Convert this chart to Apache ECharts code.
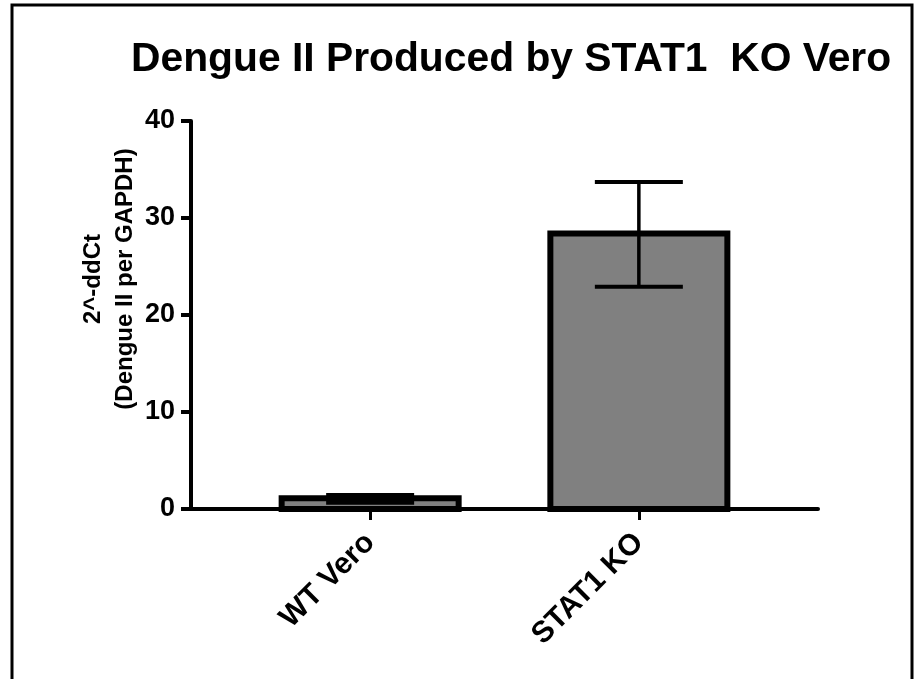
<!DOCTYPE html>
<html>
<head>
<meta charset="utf-8">
<script src="https://cdn.jsdelivr.net/npm/echarts@6/dist/echarts.min.js"></script>
<style>
  html, body { margin: 0; padding: 0; background: #fff; }
  #chart { width: 918px; height: 679px; }
</style>
</head>
<body>
<div id="chart"></div>
<script>
const categories = ['WT Vero', 'STAT1 KO'];
const means = [1.1, 28.4];
const errLow = [0.65, 22.9];
const errHigh = [1.45, 33.7];
const yMin = 0, yMax = 40, yStep = 10;

// Prism style spacing: 2 empty slots, bar, 2 slots, bar, 2 slots
const slotOf = [2, 5];
const nSlots = 8;
const axisData = [];
const labelAt = [];
for (let i = 0; i < nSlots; i++) {
  axisData.push('s' + i);
  labelAt.push('');
}
categories.forEach((c, i) => { labelAt[slotOf[i]] = c; });
const barData = categories.map((c, i) => [slotOf[i], means[i]]);
const errData = categories.map((c, i) => [slotOf[i], errLow[i], errHigh[i]]);

const font = 'Liberation Sans, Arial, sans-serif';
const isCat = (i) => slotOf.indexOf(i) >= 0;

const myChart = echarts.init(document.getElementById('chart'));
const option = {
  animation: false,
  backgroundColor: '#fff',
  title: {
    text: 'Dengue II Produced by STAT1  KO Vero',
    left: 126,
    top: 34,
    textStyle: { fontFamily: font, fontWeight: 'bold', fontSize: 40.8, color: '#000' }
  },
  graphic: [{
    type: 'rect',
    silent: true,
    shape: { x: 12, y: 5, width: 900, height: 700 },
    style: { fill: 'none', stroke: '#000', lineWidth: 3 }
  }],
  grid: { left: 191, right: 100, top: 121, bottom: 170 },
  xAxis: {
    type: 'category',
    data: axisData,
    boundaryGap: false,
    axisLine: { lineStyle: { color: '#000', width: 4 } },
    axisTick: { interval: (i) => isCat(i), length: 11, lineStyle: { color: '#000', width: 3 } },
    axisLabel: {
      interval: (i) => isCat(i),
      formatter: (v, i) => labelAt[i],
      rotate: 45,
      margin: 29,
      color: '#000',
      fontFamily: font,
      fontWeight: 'bold',
      fontSize: 30
    },
    splitLine: { show: false }
  },
  yAxis: {
    type: 'value',
    min: yMin,
    max: yMax,
    interval: yStep,
    name: '2^-ddCt\n(Dengue II per GAPDH)',
    nameLocation: 'middle',
    nameRotate: 90,
    nameGap: 50,
    nameMoveOverlap: false,
    nameTextStyle: {
      color: '#000', fontFamily: font, fontWeight: 'bold', fontSize: 24,
      lineHeight: 32, padding: [0, 0, 0, 72]
    },
    axisLine: { show: true, lineStyle: { color: '#000', width: 4 } },
    axisTick: { show: true, length: 10, lineStyle: { color: '#000', width: 4 } },
    axisLabel: { margin: 16, color: '#000', fontFamily: font, fontWeight: 'bold', fontSize: 27 },
    splitLine: { show: false }
  },
  series: [
    {
      name: 'mean',
      type: 'custom',
      data: barData,
      encode: { x: 0, y: 1 },
      z: 3,
      renderItem: (params, api) => {
        const base = api.coord([api.value(0), 0]);
        const top = api.coord([api.value(0), api.value(1)]);
        const w = 177;
        return {
          type: 'rect',
          shape: { x: top[0] - w / 2, y: top[1], width: w, height: base[1] - top[1] },
          style: { fill: '#808080', stroke: '#000', lineWidth: 6 }
        };
      }
    },
    {
      name: 'sem',
      type: 'custom',
      data: errData,
      encode: { x: 0, y: [1, 2] },
      z: 5,
      renderItem: (params, api) => {
        const x = api.value(0);
        const lo = api.coord([x, api.value(1)]);
        const hi = api.coord([x, api.value(2)]);
        const half = 44;
        const st = { stroke: '#000', lineWidth: 4 };
        return {
          type: 'group',
          children: [
            { type: 'line', shape: { x1: lo[0], y1: lo[1], x2: hi[0], y2: hi[1] }, style: { stroke: '#000', lineWidth: 3.5 } },
            { type: 'line', shape: { x1: hi[0] - half, y1: hi[1], x2: hi[0] + half, y2: hi[1] }, style: st },
            { type: 'line', shape: { x1: lo[0] - half, y1: lo[1], x2: lo[0] + half, y2: lo[1] }, style: st }
          ]
        };
      }
    }
  ]
};
myChart.setOption(option);
</script>
</body>
</html>
